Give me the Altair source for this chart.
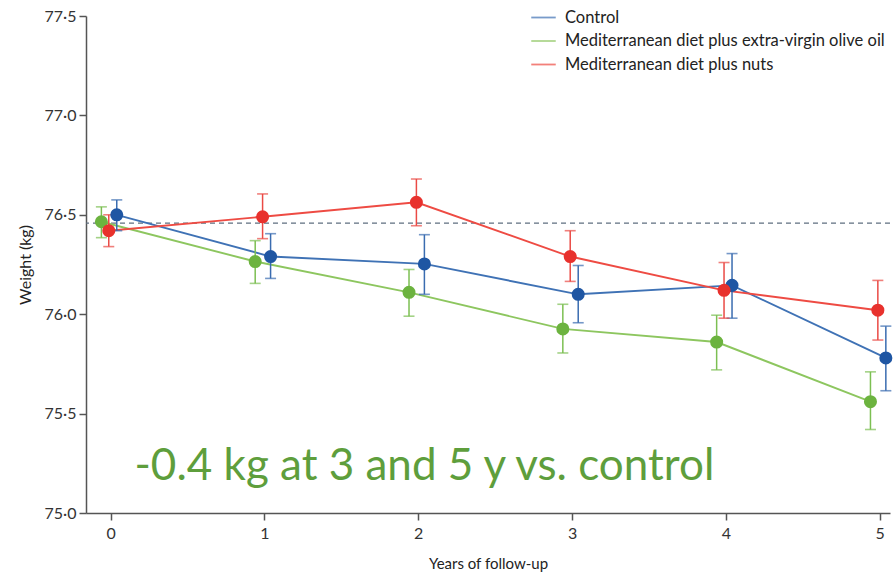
import altair as alt
import pandas as pd

years = [0, 1, 2, 3, 4, 5]
groups = ["Control", "Mediterranean diet plus extra-virgin olive oil", "Mediterranean diet plus nuts"]

control = [76.50, 76.29, 76.253, 76.10, 76.145, 75.78]
control_lo = [76.42, 76.18, 76.10, 75.957, 75.98, 75.615]
control_hi = [76.575, 76.405, 76.40, 76.245, 76.305, 75.94]

evoo = [76.465, 76.265, 76.11, 75.926, 75.86, 75.56]
evoo_lo = [76.385, 76.155, 75.99, 75.805, 75.72, 75.42]
evoo_hi = [76.54, 76.37, 76.225, 76.05, 75.995, 75.71]

nuts = [76.42, 76.49, 76.563, 76.29, 76.12, 76.02]
nuts_lo = [76.34, 76.38, 76.445, 76.165, 75.98, 75.87]
nuts_hi = [76.50, 76.605, 76.68, 76.42, 76.26, 76.17]

offsets = [0.04, -0.06, -0.012]
line_colors = ["#3f72b5", "#8dc65f", "#ee4b43"]
dot_colors = ["#1f56a3", "#6cb33f", "#e8312d"]
bar_colors = ["#3a6cb0", "#7cbf52", "#ea4a45"]

baseline = 76.458
annotation = "-0.4 kg at 3 and 5 y vs. control"
annot_x = 2.04
annot_y = 75.165

series = [(control, control_lo, control_hi), (evoo, evoo_lo, evoo_hi), (nuts, nuts_lo, nuts_hi)]
rows = []
for gi, (m, lo, hi) in enumerate(series):
    for i, yr in enumerate(years):
        rows.append({
            "group": groups[gi], "year": yr, "x": yr + offsets[gi],
            "mean": m[i], "lo": lo[i], "hi": hi[i],
            "dot": dot_colors[gi], "bar": bar_colors[gi], "order": gi,
        })
df = pd.DataFrame(rows)

xs = alt.Scale(domain=[-0.16, 5.067], nice=False, zero=False)
ys = alt.Scale(domain=[75.0, 77.5], nice=False, zero=False)

X = alt.X("x:Q", scale=xs, axis=alt.Axis(values=years, title="Years of follow-up",
                                           format="d", labelPadding=5, titlePadding=15))
Y = alt.Y("mean:Q", scale=ys, axis=alt.Axis(values=[75.0, 75.5, 76.0, 76.5, 77.0, 77.5],
                                             labelExpr="replace(format(datum.value, '.1f'), '.', '·')",
                                             title="Weight (kg)", labelPadding=3, titlePadding=11,
                                             titleFontSize=16))

base = alt.Chart(df)

dash = alt.Chart(pd.DataFrame({"b": [baseline]})).mark_rule(
    strokeDash=[5, 4], color="#5f6f80", strokeWidth=1.3).encode(y=alt.Y("b:Q", scale=ys))

lines = base.mark_line(strokeWidth=1.9).encode(
    x=X, y=Y,
    color=alt.Color("group:N", scale=alt.Scale(domain=groups, range=line_colors),
                    legend=alt.Legend(title=None, orient="none", legendX=444, legendY=-12,
                                      symbolType="stroke", symbolSize=600, symbolStrokeWidth=1.8,
                                      labelFont="Lato", labelFontSize=16.5, labelColor="#222",
                                      labelLimit=500, rowPadding=1.5, labelOffset=8)),
    detail="group:N",
)

err = base.mark_rule(strokeWidth=1.5).encode(
    x=X, y=alt.Y("lo:Q", scale=ys), y2="hi:Q", color=alt.Color("bar:N", scale=None))
cap_lo = base.mark_tick(orient="horizontal", size=11, thickness=1.6).encode(
    x=X, y=alt.Y("lo:Q", scale=ys), color=alt.Color("bar:N", scale=None))
cap_hi = base.mark_tick(orient="horizontal", size=11, thickness=1.6).encode(
    x=X, y=alt.Y("hi:Q", scale=ys), color=alt.Color("bar:N", scale=None))
dots = base.mark_circle(size=170, opacity=1).encode(
    x=X, y=Y, color=alt.Color("dot:N", scale=None))

text = alt.Chart(pd.DataFrame({"x": [annot_x], "y": [annot_y], "t": [annotation]})).mark_text(
    font="Lato", fontSize=44, color="#5e9e3c", align="center", baseline="alphabetic").encode(
    x=alt.X("x:Q", scale=xs), y=alt.Y("y:Q", scale=ys), text="t:N")

chart = alt.layer(dash, lines, err, cap_lo, cap_hi, dots, text).properties(
    width=804, height=497,
    autosize=alt.AutoSizeParams(type="none"),
    padding={"left": 86, "top": 16, "right": 3, "bottom": 61},
    background="white",
).configure_view(stroke=None).configure_axis(
    grid=False, domainColor="#555", domainWidth=1.5, tickColor="#555", tickWidth=1.5, tickSize=7,
    labelFont="Lato", labelFontSize=16, labelColor="#333",
    titleFont="Lato", titleFontSize=15, titleFontWeight="normal", titleColor="#222",
)

chart.save("out.html", embed_options={"renderer": "svg", "actions": False})
